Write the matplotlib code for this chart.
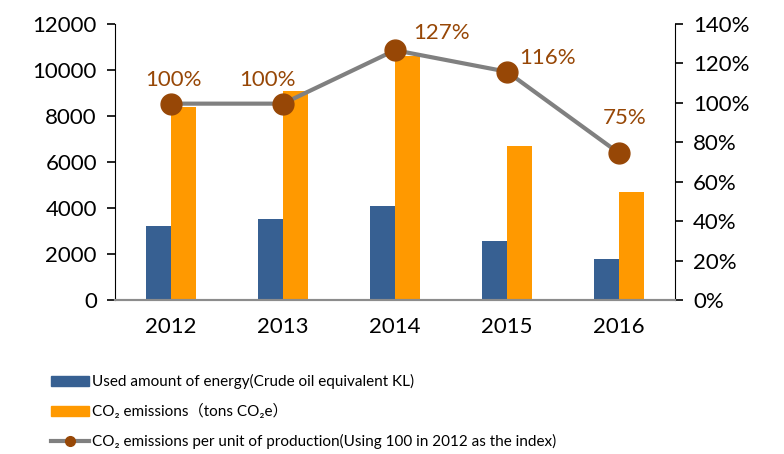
import matplotlib.pyplot as plt
from matplotlib.patches import Patch
from matplotlib.lines import Line2D

plt.rcParams['font.family'] = ['Lato', 'DejaVu Sans', 'Noto Sans CJK JP']

years = ['2012', '2013', '2014', '2015', '2016']
energy = [3230, 3510, 4100, 2550, 1800]
co2 = [8400, 9080, 10600, 6710, 4700]
index = [99.6, 99.6, 126.7, 115.8, 74.5]
index_labels = ['100%', '100%', '127%', '116%', '75%']
label_offsets = [(2, 24), (-16, 24), (47, 17), (41, 14), (6, 35)]

blue = '#376092'
orange = '#FF9900'
brown = '#974706'
gray = '#808080'

fig = plt.figure(figsize=(7.84, 4.54), dpi=100)
ax = fig.add_axes([115/784, 1-300/454, 560/784, 276/454])
ax2 = ax.twinx()

x = list(range(len(years)))
w = 0.222
ax.bar([i - w/2 for i in x], energy, w, color=blue, zorder=2)
ax.bar([i + w/2 for i in x], co2, w, color=orange, zorder=2)
ax.set_xlim(-0.5, 4.5)
ax.set_ylim(0, 12000)
ax.set_yticks(range(0, 12001, 2000))
ax.set_xticks(x)
ax.set_xticklabels(years)

ax2.plot(x, index, color=gray, lw=3, marker='o', ms=15, mfc=brown, mec=brown, zorder=3)
ax2.set_ylim(0, 140)
ax2.set_yticks(range(0, 141, 20))
ax2.set_yticklabels([f'{v}%' for v in range(0, 141, 20)])
for i, (v, lab, off) in enumerate(zip(index, index_labels, label_offsets)):
    ax2.annotate(lab, (i, v), xytext=off, textcoords='offset pixels',
                 ha='center', va='center', color=brown, fontsize=16)

for a in (ax, ax2):
    a.spines['top'].set_visible(False)
    a.spines['left'].set_color('black')
    a.spines['right'].set_color('black')
    a.spines['bottom'].set_color('#8c8c8c')
    a.spines['bottom'].set_linewidth(1.5)
    a.tick_params(axis='y', labelsize=16, length=6, width=1.2, pad=7)
    a.tick_params(axis='x', labelsize=16, length=0, pad=12)
ax.spines['right'].set_visible(False)
ax2.spines['left'].set_visible(False)

handles = [Patch(color=blue), Patch(color=orange),
           Line2D([], [], color=gray, lw=3, marker='o', ms=7, mfc=brown, mec=brown)]
labels = ['Used amount of energy(Crude oil equivalent KL)',
          'CO₂ emissions（tons CO₂e）',
          'CO₂ emissions per unit of production(Using 100 in 2012 as the index)']
fig.legend(handles, labels, loc='upper left', bbox_to_anchor=(51/784, 1-374/454),
           frameon=False, fontsize=11, handlelength=2.5, handleheight=0.65,
           handletextpad=0.2, labelspacing=0.98, borderaxespad=0, borderpad=0)

fig.savefig('out.png', dpi=100)
